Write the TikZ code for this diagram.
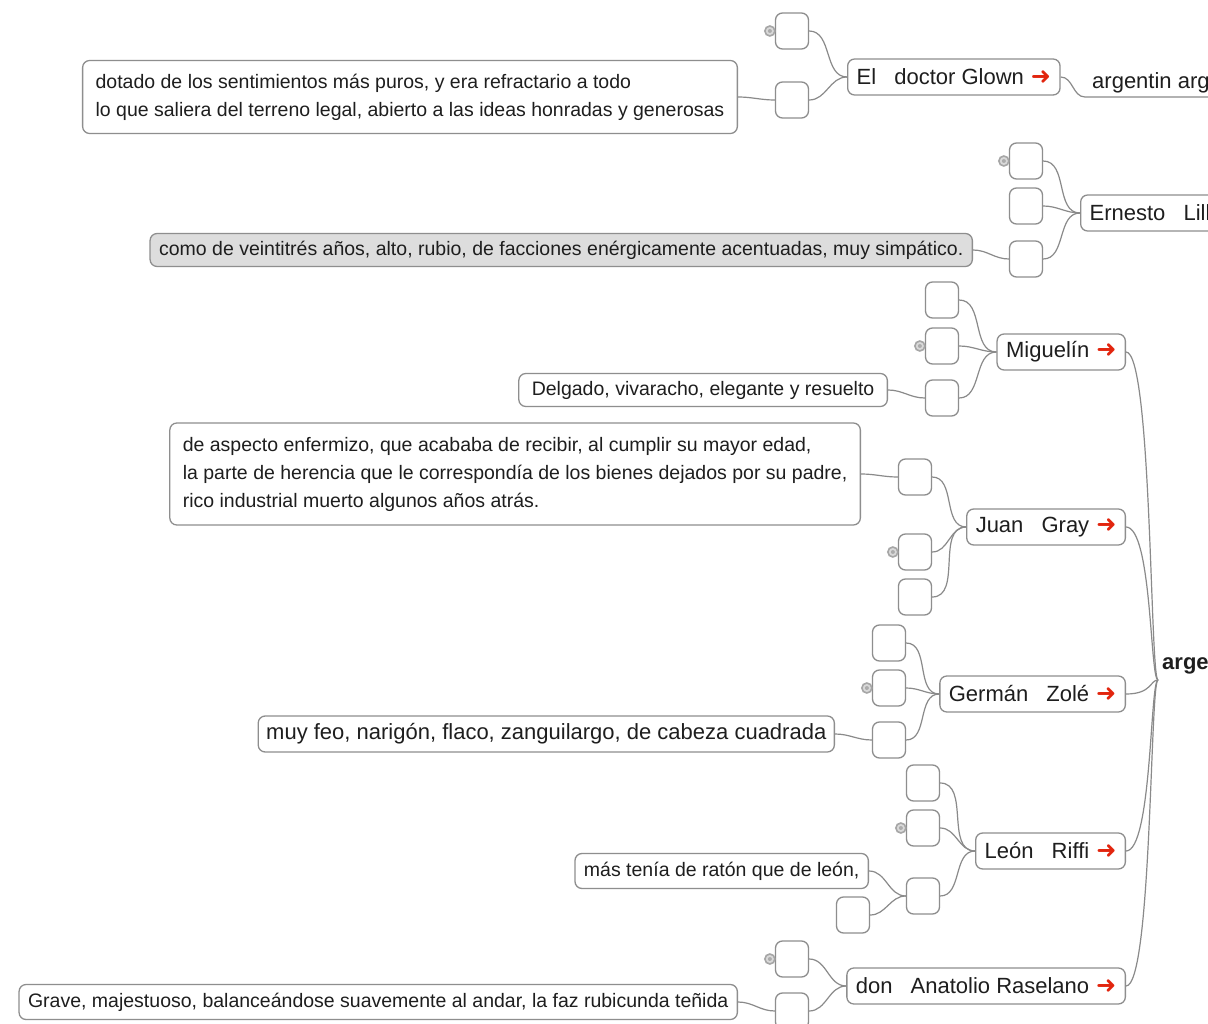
\documentclass[tikz,border=0pt]{standalone}
\usepackage{fontspec}
\setmainfont{Liberation Sans}
\newfontfamily\arrowfont{DejaVu Sans}
\definecolor{boxgray}{HTML}{8E8E8E}
\definecolor{linegray}{HTML}{8A8A8A}
\definecolor{txt}{HTML}{1E1E1E}
\definecolor{arrred}{HTML}{E2250E}
\definecolor{descfill}{HTML}{DDDDDD}
\newcommand\redarr{\hspace{7pt}{\arrowfont\color{arrred}\fontsize{24}{24}\selectfont ➜}}
\tikzset{
  namebox/.style={draw=boxgray, line width=1.3, rounded corners=7, fill=white,
    minimum height=36, inner xsep=9, inner ysep=0, text=txt,
    font=\fontsize{22}{26}\selectfont},
  smallbox/.style={draw=boxgray, line width=1.3, rounded corners=7, fill=white,
    minimum width=33, minimum height=36, inner sep=0},
  descbox/.style={draw=boxgray, line width=1.3, rounded corners=7, fill=white,
    inner xsep=13, inner ysep=0, align=left, text=txt,
    font=\fontsize{19.5}{28}\selectfont},
  conn/.style={draw=linegray, line width=1.2, out=0, in=180},
  rootconn/.style={draw=linegray, line width=1.2, out=0, in=180, out distance=26, in distance=8},
  marker/.style={circle, draw=gray!70, fill=gray!30, line width=1.6, minimum size=10, inner sep=0},
  markerdot/.style={circle, fill=gray!65, minimum size=4, inner sep=0},
}
\begin{document}
\begin{tikzpicture}[x=1pt,y=-1pt]
\useasboundingbox (0,0) rectangle (1208,1024);
\fill[white] (0,0) rectangle (1208,1024);
\clip (0,0) rectangle (1208,1024);

% root
\node[anchor=west, inner sep=0, text=txt, font=\bfseries\fontsize{22}{26}\selectfont] (root) at (1162,666) {arge};
\coordinate (rj) at (1158,680);

% top parent
\node[anchor=west, inner sep=0, text=txt, font=\fontsize{22}{26}\selectfont] (arg) at (1092,83) {argentin arg};
\coordinate (argL) at (1085,97);
\coordinate (argR) at (1208,97);

% person boxes
\node[namebox, anchor=west] (glown) at (847,77) {El\hspace{12pt} doctor Glown\redarr};
\node[namebox, anchor=west] (ernesto) at (1080,213) {Ernesto\hspace{12pt} Lill\hspace{30pt}};
\node[namebox, anchor=east] (mig) at (1126,352) {Miguelín\redarr};
\node[namebox, anchor=east] (juan) at (1126,527) {Juan\hspace{12pt} Gray\redarr};
\node[namebox, anchor=east] (zole) at (1126,694) {Germán\hspace{12pt} Zolé\redarr};
\node[namebox, anchor=east] (riffi) at (1126,851) {León\hspace{12pt} Riffi\redarr};
\node[namebox, anchor=east] (anat) at (1126,986) {don\hspace{12pt} Anatolio Raselano\redarr};

% small boxes
\node[smallbox] (g1) at (792,31) {};
\node[smallbox] (g2) at (792,100) {};
\node[smallbox] (e1) at (1026,161) {};
\node[smallbox] (e2) at (1026,206) {};
\node[smallbox] (e3) at (1026,259) {};
\node[smallbox] (m1) at (942,300) {};
\node[smallbox] (m2) at (942,346) {};
\node[smallbox] (m3) at (942,398) {};
\node[smallbox] (j1) at (915,477) {};
\node[smallbox] (j2) at (915,552) {};
\node[smallbox] (j3) at (915,597) {};
\node[smallbox] (z1) at (889,643) {};
\node[smallbox] (z2) at (889,688) {};
\node[smallbox] (z3) at (889,740) {};
\node[smallbox] (l1) at (923,783) {};
\node[smallbox] (l2) at (923,828) {};
\node[smallbox] (l3) at (923,896) {};
\node[smallbox] (l4) at (853,915) {};
\node[smallbox] (a1) at (792,959) {};
\node[smallbox] (a2) at (792,1011) {};

% markers
\foreach \b/\n in {g1/1,e1/2,m2/3,j2/4,z2/5,l2/6,a1/7}{
  \node[marker] (mk\n) at ([xshift=-5]\b.west) {};
  \node[markerdot] (mkd\n) at (mk\n) {};
}

% descriptions
\node[descbox, anchor=east, minimum height=73] (d1) at (738,97)
  {dotado de los sentimientos más puros, y era refractario a todo\\lo que saliera del terreno legal, abierto a las ideas honradas y generosas};
\node[descbox, anchor=east, minimum height=33, fill=descfill, inner xsep=9] (d2) at (973,250)
  {como de veintitrés años, alto, rubio, de facciones enérgicamente acentuadas, muy simpático.};
\node[descbox, anchor=east, minimum height=33] (d3) at (888,390)
  {Delgado, vivaracho, elegante y resuelto};
\node[descbox, anchor=east, minimum height=102] (d4) at (861,474)
  {de aspecto enfermizo, que acababa de recibir, al cumplir su mayor edad,\\la parte de herencia que le correspondía de los bienes dejados por su padre,\\rico industrial muerto algunos años atrás.};
\node[descbox, anchor=east, minimum height=36, inner xsep=8, font=\fontsize{22}{26}\selectfont] (d5) at (835,734)
  {muy feo, narigón, flaco, zanguilargo, de cabeza cuadrada};
\node[descbox, anchor=east, minimum height=35, inner xsep=9] (d6) at (869,871)
  {más tenía de ratón que de león,};
\node[descbox, anchor=east, minimum height=35, inner xsep=9] (d7) at (738,1002)
  {Grave, majestuoso, balanceándose suavemente al andar, la faz rubicunda teñida};

% connectors
\draw[conn] (glown.east) to (argL) -- (argR);
\draw[conn] (g1.east) to (glown.west);
\draw[conn] (g2.east) to (glown.west);
\draw[conn] (d1.east) to (g2.west);

\draw[conn] (e1.east) to (ernesto.west);
\draw[conn] (e2.east) to (ernesto.west);
\draw[conn] (e3.east) to (ernesto.west);
\draw[conn] (d2.east) to (e3.west);

\draw[conn] (m1.east) to (mig.west);
\draw[conn] (m2.east) to (mig.west);
\draw[conn] (m3.east) to (mig.west);
\draw[conn] (d3.east) to (m3.west);

\draw[conn] (j1.east) to (juan.west);
\draw[conn] (j2.east) to (juan.west);
\draw[conn] (j3.east) to (juan.west);
\draw[conn] (d4.east) to (j1.west);

\draw[conn] (z1.east) to (zole.west);
\draw[conn] (z2.east) to (zole.west);
\draw[conn] (z3.east) to (zole.west);
\draw[conn] (d5.east) to (z3.west);

\draw[conn] (l1.east) to (riffi.west);
\draw[conn] (l2.east) to (riffi.west);
\draw[conn] (l3.east) to (riffi.west);
\draw[conn] (d6.east) to (l3.west);
\draw[conn] (l4.east) to (l3.west);

\draw[conn] (a1.east) to (anat.west);
\draw[conn] (a2.east) to (anat.west);
\draw[conn] (d7.east) to (a2.west);

\draw[rootconn] (mig.east) to (rj);
\draw[rootconn] (juan.east) to (rj);
\draw[rootconn] (zole.east) to (rj);
\draw[rootconn] (riffi.east) to (rj);
\draw[rootconn] (anat.east) to (rj);
\end{tikzpicture}
\end{document}
